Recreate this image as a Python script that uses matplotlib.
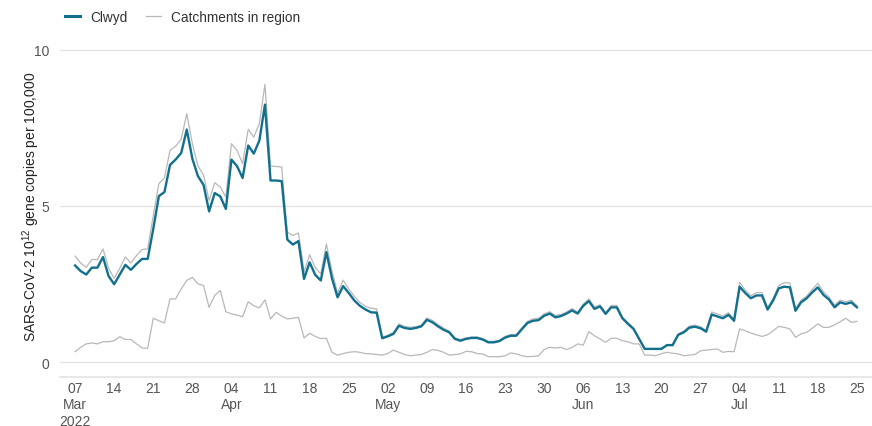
import matplotlib
matplotlib.use("Agg")
import matplotlib.pyplot as plt
import matplotlib.dates as mdates
from matplotlib.lines import Line2D
import pandas as pd

plt.rcParams['font.family'] = ['Liberation Sans', 'DejaVu Sans']
plt.rcParams['mathtext.default'] = 'regular'

start_date = "2022-03-07"

clwyd = [3.09, 2.91, 2.80, 3.02, 3.02, 3.36, 2.75, 2.49, 2.80, 3.11,
         2.95, 3.14, 3.30, 3.30, 4.26, 5.31, 5.44, 6.31, 6.48, 6.69,
         7.44, 6.51, 5.95, 5.67, 4.82, 5.41, 5.30, 4.90, 6.48, 6.27,
         5.89, 6.93, 6.67, 7.09, 8.24, 5.81, 5.81, 5.79, 3.92, 3.76,
         3.87, 2.66, 3.19, 2.79, 2.61, 3.52, 2.68, 2.07, 2.43, 2.21,
         1.97, 1.80, 1.68, 1.59, 1.58, 0.76, 0.82, 0.90, 1.16, 1.09,
         1.06, 1.09, 1.14, 1.35, 1.27, 1.14, 1.03, 0.95, 0.74, 0.68,
         0.74, 0.77, 0.77, 0.72, 0.63, 0.63, 0.67, 0.78, 0.84, 0.84,
         1.05, 1.25, 1.32, 1.34, 1.48, 1.55, 1.43, 1.47, 1.55, 1.65,
         1.55, 1.80, 1.95, 1.70, 1.78, 1.54, 1.75, 1.75, 1.40, 1.22,
         1.06, 0.74, 0.42, 0.42, 0.42, 0.42, 0.54, 0.54, 0.87, 0.95,
         1.10, 1.13, 1.08, 0.97, 1.52, 1.46, 1.40, 1.51, 1.32, 2.41,
         2.21, 2.04, 2.13, 2.13, 1.68, 1.97, 2.36, 2.41, 2.39, 1.64,
         1.91, 2.04, 2.23, 2.39, 2.15, 2.00, 1.75, 1.91, 1.86, 1.91,
         1.75]

catchment_a = [3.39, 3.17, 3.03, 3.28, 3.28, 3.62, 3.00, 2.68, 3.00, 3.36,
               3.17, 3.41, 3.60, 3.62, 4.69, 5.71, 5.89, 6.77, 6.91, 7.13,
               7.95, 6.99, 6.28, 5.98, 5.17, 5.74, 5.60, 5.28, 6.99, 6.77,
               6.35, 7.45, 7.20, 7.63, 8.89, 6.27, 6.26, 6.24, 4.16, 4.05,
               4.13, 2.89, 3.43, 3.03, 2.82, 3.78, 2.92, 2.21, 2.62, 2.34,
               2.10, 1.91, 1.78, 1.72, 1.70, 0.79, 0.86, 0.95, 1.22, 1.14,
               1.11, 1.13, 1.18, 1.41, 1.33, 1.20, 1.08, 0.99, 0.78, 0.72,
               0.77, 0.80, 0.80, 0.75, 0.66, 0.66, 0.70, 0.82, 0.88, 0.88,
               1.09, 1.30, 1.38, 1.40, 1.54, 1.61, 1.49, 1.52, 1.60, 1.71,
               1.60, 1.85, 2.02, 1.76, 1.83, 1.58, 1.81, 1.81, 1.44, 1.26,
               1.09, 0.76, 0.43, 0.43, 0.43, 0.43, 0.56, 0.56, 0.90, 0.99,
               1.15, 1.18, 1.13, 1.01, 1.60, 1.54, 1.47, 1.58, 1.38, 2.55,
               2.30, 2.12, 2.22, 2.22, 1.74, 2.04, 2.45, 2.54, 2.53, 1.70,
               1.98, 2.11, 2.32, 2.52, 2.25, 2.08, 1.82, 1.98, 1.93, 1.98,
               1.80]

catchment_b = [0.33, 0.47, 0.58, 0.61, 0.58, 0.65, 0.65, 0.68, 0.81, 0.72,
               0.72, 0.58, 0.45, 0.44, 1.40, 1.32, 1.25, 2.02, 2.02, 2.34,
               2.61, 2.71, 2.50, 2.45, 1.75, 2.13, 2.29, 1.61, 1.54, 1.50,
               1.45, 1.93, 1.80, 1.73, 1.99, 1.38, 1.59, 1.47, 1.38, 1.40,
               1.43, 0.77, 0.92, 0.82, 0.75, 0.76, 0.31, 0.22, 0.27, 0.31,
               0.33, 0.31, 0.27, 0.26, 0.24, 0.22, 0.27, 0.38, 0.31, 0.24,
               0.20, 0.22, 0.24, 0.31, 0.40, 0.37, 0.31, 0.22, 0.24, 0.26,
               0.34, 0.33, 0.27, 0.26, 0.17, 0.17, 0.17, 0.20, 0.29, 0.26,
               0.20, 0.17, 0.18, 0.20, 0.40, 0.47, 0.45, 0.47, 0.40, 0.47,
               0.58, 0.54, 0.97, 0.84, 0.74, 0.63, 0.76, 0.76, 0.68, 0.65,
               0.58, 0.58, 0.22, 0.22, 0.20, 0.27, 0.31, 0.28, 0.26, 0.20,
               0.22, 0.24, 0.36, 0.38, 0.40, 0.42, 0.31, 0.34, 0.33, 1.06,
               1.00, 0.93, 0.87, 0.82, 0.87, 1.00, 1.14, 1.11, 1.06, 0.79,
               0.90, 0.95, 1.08, 1.22, 1.11, 1.11, 1.19, 1.29, 1.40, 1.27,
               1.30]

y_ticks = [0, 5, 10]
y_label = "SARS-CoV-2 10$^{12}$ gene copies per 100,000"
legend_labels = ["Clwyd", "Catchments in region"]

dates = pd.date_range(start_date, periods=len(clwyd), freq="D")
tick_dates = pd.date_range(start_date, dates[-1], freq="7D")


def tick_label(d, i):
    s = d.strftime("%d")
    if i == 0:
        s += "\n" + d.strftime("%b") + "\n" + d.strftime("%Y")
    elif d.day <= 7:
        s += "\n" + d.strftime("%b")
    return s


tick_labels = [tick_label(d, i) for i, d in enumerate(tick_dates)]

teal = "#12708f"
grey = "#b8b8b8"

fig = plt.figure(figsize=(8.72, 4.27), dpi=100)
ax = fig.add_axes([60/872, 1 - 378/427, 1 - 60/872, (378 - 35)/427])

ax.plot(dates, catchment_a, color=grey, lw=0.9, zorder=2)
ax.plot(dates, catchment_b, color=grey, lw=0.9, zorder=2)
ax.plot(dates, clwyd, color=teal, lw=1.7, zorder=3)

x0 = mdates.date2num(pd.Timestamp(start_date))
ax.set_xlim(x0 - 2.7, x0 + 142.7)
ax.set_ylim(-0.48, 10.5)

ax.set_yticks(y_ticks)
ax.set_yticklabels([str(t) for t in y_ticks])
ax.set_xticks(tick_dates)
ax.set_xticklabels(tick_labels)

ax.grid(axis='y', color='#e2e2e2', lw=0.9)
ax.set_axisbelow(True)
for side in ['top', 'right', 'left']:
    ax.spines[side].set_visible(False)
ax.spines['bottom'].set_color('#e8e8e8')
ax.spines['bottom'].set_linewidth(1.5)

ax.tick_params(axis='both', length=0, labelsize=10, labelcolor='#555555')
ax.tick_params(axis='x', pad=3)
ax.tick_params(axis='y', pad=8)

ax.set_ylabel(y_label, fontsize=10, color='#222222')
ax.yaxis.set_label_coords(-0.022, 0.5)

handles = [Line2D([], [], color=teal, lw=2.2), Line2D([], [], color=grey, lw=0.9)]
fig.legend(handles, legend_labels, loc='upper left',
           bbox_to_anchor=(53/872, 1 + 1/427), ncol=2, frameon=False,
           fontsize=9.8, handlelength=1.1, handletextpad=0.7, columnspacing=1.4,
           labelcolor='#333333')

fig.savefig("out.png", dpi=100)
